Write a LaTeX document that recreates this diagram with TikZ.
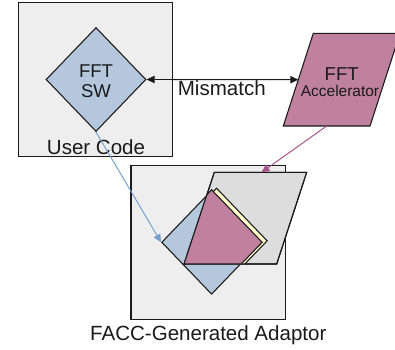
\documentclass[tikz,border=0pt]{standalone}
\usepackage{fontspec}
\setmainfont{Liberation Sans}
\usetikzlibrary{shapes.geometric,arrows.meta}
\definecolor{boxfill}{HTML}{EEEEEE}
\definecolor{parafill}{HTML}{DDDDDD}
\definecolor{bluefill}{HTML}{B4C7DC}
\definecolor{pinkfill}{HTML}{BF819E}
\definecolor{yelfill}{HTML}{FFFFCC}
\definecolor{bluearrow}{HTML}{729FCF}
\definecolor{pinkarrow}{HTML}{A8508A}
\definecolor{ink}{HTML}{1A1A1A}
\begin{document}
\begin{tikzpicture}[x=0.75pt,y=-0.75pt,
  panel/.style={draw=ink, fill=boxfill, line width=0.8pt, minimum width=116pt, minimum height=115.5pt, inner sep=0pt},
  dia/.style={diamond, draw=ink, line width=0.8pt, minimum width=75pt, minimum height=78pt, inner sep=0pt},
  outl/.style={draw=ink, line width=0.8pt, line join=miter},
  lbl/.style={text=ink, font=\fontsize{15.4pt}{18pt}\selectfont, inner sep=0pt, anchor=base},
  arr/.style={line width=0.7pt, -{Triangle[length=6pt,width=5.5pt]}}
]
\useasboundingbox (0,0) rectangle (395,349);
% user code panel
\node[panel] (p1) at (95.5,79.7) {};
\node[dia, fill=bluefill] (d1) at (96,79.5) {};
% accelerator parallelogram
\coordinate (aTL) at (313.3,33.3);
\coordinate (aTR) at (400,33.3);
\coordinate (aBR) at (370,126);
\coordinate (aBL) at (283.3,126);
\coordinate (aW) at (298.3,79.7);
\coordinate (aS) at (326.7,126);
\path[outl, fill=pinkfill] (aTL) -- (aTR) -- (aBR) -- (aBL) -- cycle;
% adaptor panel
\node[panel] (p2) at (208.3,242.8) {};
\node[dia, fill=bluefill] (d2) at (211.6,242.3) {};
\coordinate (gTL) at (214.3,172.3);
\coordinate (gTR) at (306.7,172.3);
\coordinate (gBR) at (276.7,264);
\coordinate (gBL) at (184,264);
\coordinate (gN) at (261.5,172.3);
\path[outl, fill=parafill] (gTL) -- (gTR) -- (gBR) -- (gBL) -- cycle;
\begin{scope}
  \clip (gTL) -- (gTR) -- (gBR) -- (gBL) -- cycle;
  \path[outl, fill=yelfill]
    ([shift={(5,-1.5)}]d2.north) -- ([shift={(5,-1.5)}]d2.east) -- ([shift={(5,-1.5)}]d2.south) -- ([shift={(5,-1.5)}]d2.west) -- cycle;
  \path[outl, fill=pinkfill]
    (d2.north) -- (d2.east) -- (d2.south) -- (d2.west) -- cycle;
\end{scope}
\path[outl] (gTL) -- (gTR) -- (gBR) -- (gBL) -- cycle;
% texts
\node[lbl, font=\fontsize{13.9pt}{15pt}\selectfont] (t1) at (96,77.3) {FFT};
\node[lbl, font=\fontsize{13.9pt}{15pt}\selectfont] (t2) at (96,97.3) {SW};
\node[lbl] (uc) at (96,154) {User Code};
\node[lbl] (mm) at (221.8,95.7) {Mismatch};
\node[lbl, font=\fontsize{14pt}{15pt}\selectfont] (t3) at (341.7,81) {FFT};
\node[lbl, font=\fontsize{11.6pt}{13pt}\selectfont] (t4) at (340,96.7) {Accelerator};
\node[lbl] (fa) at (208.3,340) {FACC-Generated Adaptor};
% connectors
\draw[line width=0.7pt, draw=ink, {Triangle[length=6pt,width=5.5pt]}-{Triangle[length=6pt,width=5.5pt]}] (d1.east) -- (aW);
\draw[arr, draw=bluearrow, fill=bluearrow] (d1.south) -- (d2.west);
\draw[arr, draw=pinkarrow, fill=pinkarrow] (aS) -- (gN);
\end{tikzpicture}
\end{document}
